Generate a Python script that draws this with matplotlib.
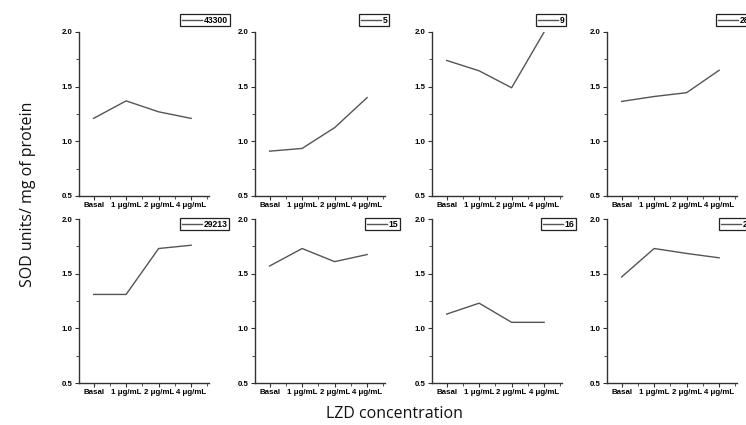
import matplotlib
matplotlib.use("Agg")
import matplotlib.pyplot as plt
from matplotlib.ticker import MultipleLocator, FixedLocator

categories = ["Basal", "1 μg/mL", "2 μg/mL", "4 μg/mL"]
strains = ["43300", "5", "9", "28", "29213", "15", "16", "2"]
v_43300 = [1.21, 1.37, 1.27, 1.21]
v_5 = [0.91, 0.935, 1.125, 1.40]
v_9 = [1.74, 1.645, 1.49, 2.00]
v_28 = [1.365, 1.41, 1.445, 1.65]
v_29213 = [1.31, 1.31, 1.73, 1.76]
v_15 = [1.57, 1.73, 1.61, 1.675]
v_16 = [1.13, 1.23, 1.055, 1.055]
v_2 = [1.47, 1.73, 1.685, 1.645]
series = [v_43300, v_5, v_9, v_28, v_29213, v_15, v_16, v_2]
y_ticks = [0.5, 1.0, 1.5, 2.0]

W, H = 746, 425
fig = plt.figure(figsize=(W / 100, H / 100), dpi=100)

col_left = [79, 255, 432, 607]
row_top = [32, 219]
ax_w, ax_h = 130, 164
leg_left = [[180, 359, 536, 716], [180, 365, 541, 719]]
leg_top = [14, 218]

tick_font = dict(family="Liberation Sans", weight="bold", size=5.7)
axis_color = "#333333"
line_color = "#555555"

x = list(range(len(categories)))
for i, vals in enumerate(series):
    r, c = divmod(i, 4)
    l = col_left[c] / W
    b = 1 - (row_top[r] + ax_h) / H
    ax = fig.add_axes([l, b, ax_w / W, ax_h / H])
    ax.plot(x, vals, color=line_color, lw=1.0, label=strains[i])
    ax.set_xlim(-0.45, 3.55)
    ax.set_ylim(0.5, 2.0)
    ax.spines["top"].set_visible(False)
    ax.spines["right"].set_visible(False)
    for s in ("left", "bottom"):
        ax.spines[s].set_color(axis_color)
        ax.spines[s].set_linewidth(1.0)
    ax.set_xticks(x)
    ax.set_xticklabels(categories, fontdict=tick_font)
    ax.xaxis.set_minor_locator(FixedLocator([0.5, 1.5, 2.5, 3.5]))
    ax.set_yticks(y_ticks)
    ax.set_yticklabels([f"{t:.1f}" for t in y_ticks], fontdict=tick_font)
    ax.yaxis.set_minor_locator(MultipleLocator(0.25))
    ax.tick_params(which="major", length=3, width=0.8, color=axis_color, pad=1.5)
    ax.tick_params(which="minor", length=2, width=0.6, color=axis_color)
    ax.set_facecolor("none")
    leg = ax.legend(loc="upper left",
                    bbox_to_anchor=(leg_left[r][c] / W, 1 - leg_top[r] / H),
                    bbox_transform=fig.transFigure,
                    prop=dict(family="Liberation Sans", weight="bold", size=6.2),
                    frameon=True, fancybox=False, framealpha=1,
                    edgecolor="#222222", borderpad=0.2, handlelength=2.3,
                    handletextpad=0.25, borderaxespad=0)
    leg.get_frame().set_linewidth(0.9)

fig.text(28 / W, 1 - 194 / H, "SOD units/ mg of protein", rotation=90,
         ha="center", va="center", family="Open Sans", size=11.5, color="#111111")
fig.text(394 / W, 1 - 414 / H, "LZD concentration", ha="center", va="center",
         family="Open Sans", size=11.5, color="#111111")

fig.savefig("out.png", dpi=100)
